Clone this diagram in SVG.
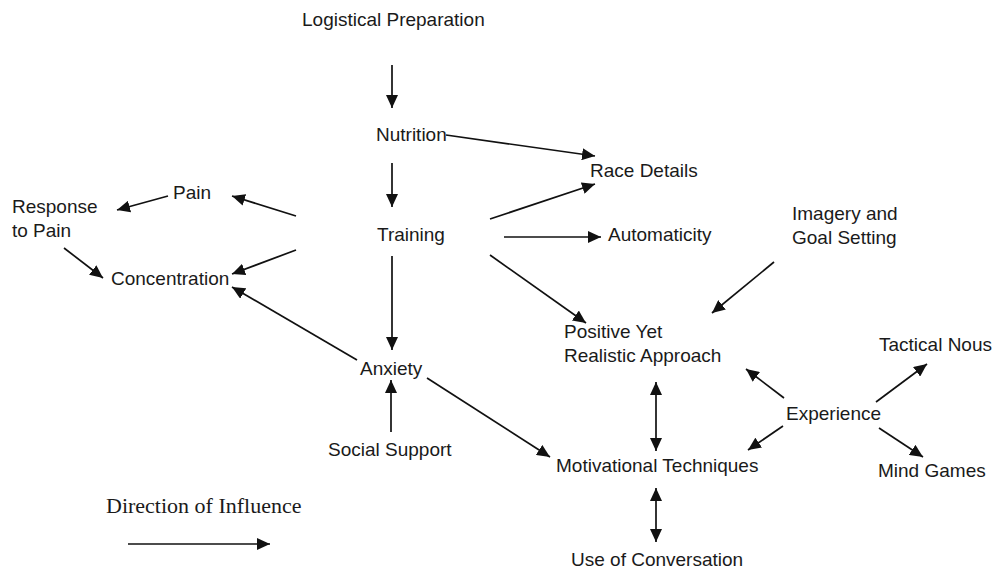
<svg xmlns="http://www.w3.org/2000/svg" width="1001" height="571" viewBox="0 0 1001 571">
<style>
text{font-family:"Liberation Sans",Arial,sans-serif;font-size:19px;fill:#1a1a1a}
.serif{font-family:"Liberation Serif","Times New Roman",serif;font-size:22px}
.c line{stroke:#111;stroke-width:1.7;fill:none;marker-end:url(#ah)}
.c line.bi{marker-start:url(#ah)}
</style>
<defs>
<marker id="ah" markerUnits="userSpaceOnUse" markerWidth="14" markerHeight="12" refX="13" refY="6" orient="auto-start-reverse">
<path d="M0,0 L13,6 L0,12 z" fill="#111"/>
</marker>
</defs>
<rect width="1001" height="571" fill="#fff"/>
<g id="logistical"><text x="302" y="26">Logistical Preparation</text></g>
<g id="nutrition"><text x="376" y="141">Nutrition</text></g>
<g id="race"><text x="590" y="177">Race Details</text></g>
<g id="training"><text x="377" y="241">Training</text></g>
<g id="automaticity"><text x="608" y="241">Automaticity</text></g>
<g id="pain"><text x="173" y="199">Pain</text></g>
<g id="response"><text x="12" y="213">Response</text><text x="12" y="237">to Pain</text></g>
<g id="concentration"><text x="111" y="285">Concentration</text></g>
<g id="imagery"><text x="792" y="220">Imagery and</text><text x="792" y="244">Goal Setting</text></g>
<g id="positive"><text x="564" y="338">Positive Yet</text><text x="564" y="362">Realistic Approach</text></g>
<g id="tactical"><text x="879" y="351">Tactical Nous</text></g>
<g id="anxiety"><text x="360" y="375">Anxiety</text></g>
<g id="experience"><text x="786" y="420">Experience</text></g>
<g id="social"><text x="328" y="456">Social Support</text></g>
<g id="motivational"><text x="556" y="472">Motivational Techniques</text></g>
<g id="mind"><text x="878" y="477">Mind Games</text></g>
<g id="conversation"><text x="571" y="566">Use of Conversation</text></g>
<g id="legend"><text class="serif" x="106" y="513">Direction of Influence</text></g>
<g class="c" id="connectors">
<line x1="392" y1="65" x2="392" y2="108"/>
<line x1="392" y1="163" x2="392" y2="207"/>
<line x1="446" y1="135" x2="595" y2="156"/>
<line x1="490" y1="219" x2="595" y2="184"/>
<line x1="504" y1="237" x2="601" y2="237"/>
<line x1="296" y1="216" x2="232" y2="196"/>
<line x1="168" y1="196" x2="117" y2="210"/>
<line x1="64" y1="248" x2="103" y2="278"/>
<line x1="296" y1="250" x2="232" y2="274"/>
<line x1="357" y1="360" x2="232" y2="287"/>
<line x1="392" y1="256" x2="392" y2="350"/>
<line x1="490" y1="255" x2="586" y2="323"/>
<line x1="774" y1="262" x2="712" y2="313"/>
<line x1="391" y1="432" x2="391" y2="380"/>
<line x1="427" y1="378" x2="550" y2="457"/>
<line class="bi" x1="656" y1="382" x2="656" y2="451"/>
<line class="bi" x1="656" y1="488" x2="656" y2="542"/>
<line x1="784" y1="398" x2="746" y2="369"/>
<line x1="783" y1="426" x2="748" y2="450"/>
<line x1="876" y1="402" x2="927" y2="364"/>
<line x1="879" y1="428" x2="923" y2="457"/>
<line x1="128" y1="544" x2="270" y2="544"/>
</g>
</svg>
